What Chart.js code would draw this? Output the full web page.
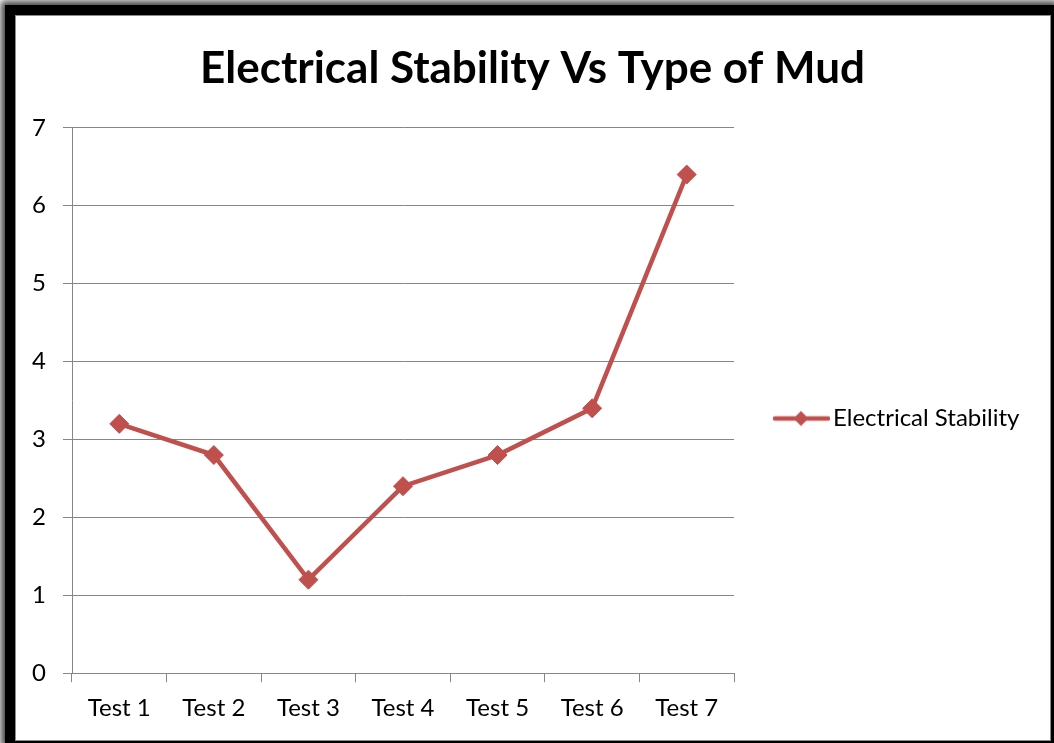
<!DOCTYPE html>
<html>
<head>
<meta charset="utf-8">
<script src="https://cdn.jsdelivr.net/npm/chart.js@4/dist/chart.umd.min.js"></script>
<style>
  html, body { margin: 0; padding: 0; background: #fff; }
  #wrap { position: relative; width: 1054px; height: 743px; overflow: hidden; }
  #frame { position: absolute; left: 5px; top: 5px; width: 1049px; height: 738px; background: #000;
           box-shadow: 0 0 7px 4px rgba(0,0,0,0.75); }
  #panel { position: absolute; left: 15px; top: 15px; width: 1034px; height: 724px; background: #fff;
           border: 1px solid #8c8c8c; }
  #chart { position: absolute; left: 0; top: 0; }
</style>
</head>
<body>
<div id="wrap">
  <div id="frame"></div>
  <div id="panel"></div>
  <canvas id="chart" width="1054" height="743"></canvas>
</div>
<script>
const categories = ['Test 1', 'Test 2', 'Test 3', 'Test 4', 'Test 5', 'Test 6', 'Test 7'];
const electricalStability = [3.2, 2.8, 1.2, 2.4, 2.8, 3.4, 6.4];
const seriesName = 'Electrical Stability';
const chartTitle = 'Electrical Stability Vs Type of Mud';

const RED = '#C0504D';
const GRID = '#868686';
const FONT = "Lato, 'Open Sans', sans-serif";
const LEGEND_WIDTH = 315;

// Legend swatch: a short line with a diamond marker in the middle
function legendSwatch() {
  const c = document.createElement('canvas');
  c.width = 58; c.height = 18;
  const g = c.getContext('2d');
  g.strokeStyle = RED; g.lineWidth = 4.5; g.lineCap = 'round';
  g.beginPath(); g.moveTo(3, 9); g.lineTo(56, 9); g.stroke();
  g.fillStyle = RED;
  g.beginPath(); g.moveTo(29, 1.5); g.lineTo(36.5, 9); g.lineTo(29, 16.5); g.lineTo(21.5, 9); g.closePath(); g.fill();
  return c;
}

// Give the right-hand legend a fixed column width so the plot keeps its proportions
const fixedLegendWidth = {
  id: 'fixedLegendWidth',
  beforeLayout(chart) {
    const lg = chart.legend;
    if (lg && !lg.__fixedWidth) {
      const fit = lg.fit.bind(lg);
      lg.fit = function () { fit(); this.width = LEGEND_WIDTH; };
      lg.__fixedWidth = true;
    }
  }
};

new Chart(document.getElementById('chart'), {
  type: 'line',
  data: {
    labels: categories,
    datasets: [{
      label: seriesName,
      data: electricalStability,
      borderColor: RED,
      backgroundColor: RED,
      borderWidth: 4.5,
      pointStyle: 'rectRot',
      pointRadius: 9.5,
      pointBorderWidth: 1,
      pointBackgroundColor: RED,
      pointBorderColor: RED,
      tension: 0
    }]
  },
  plugins: [fixedLegendWidth],
  options: {
    responsive: false,
    animation: false,
    devicePixelRatio: 1,
    layout: { padding: { left: 16, right: 5, top: 16, bottom: 8 } },
    plugins: {
      title: {
        display: true,
        text: chartTitle,
        color: '#000',
        font: { family: FONT, size: 44, weight: 'bold' },
        padding: { top: 26, bottom: 33 }
      },
      legend: {
        position: 'right',
        title: { display: true, text: '', font: { size: 10 }, padding: { top: 74, bottom: 0 } },
        labels: {
          usePointStyle: true,
          pointStyle: legendSwatch(),
          pointStyleWidth: 40,
          color: '#000',
          font: { family: FONT, size: 24 },
          padding: 47
        }
      },
      tooltip: { enabled: false }
    },
    scales: {
      x: {
        type: 'category',
        offset: true,
        grid: { offset: true, drawOnChartArea: false, tickLength: 9, color: GRID, lineWidth: 1 },
        border: { display: true, color: GRID, width: 1 },
        ticks: { color: '#000', font: { family: FONT, size: 24 }, padding: 12, maxRotation: 0 }
      },
      y: {
        min: 0,
        max: 7,
        ticks: { stepSize: 1, color: '#000', font: { family: FONT, size: 24 }, padding: 17 },
        grid: { color: GRID, lineWidth: 1, tickLength: 9 },
        border: { display: true, color: GRID, width: 1 },
        afterFit: (scale) => { scale.width = 56; }
      }
    }
  }
});
</script>
</body>
</html>
